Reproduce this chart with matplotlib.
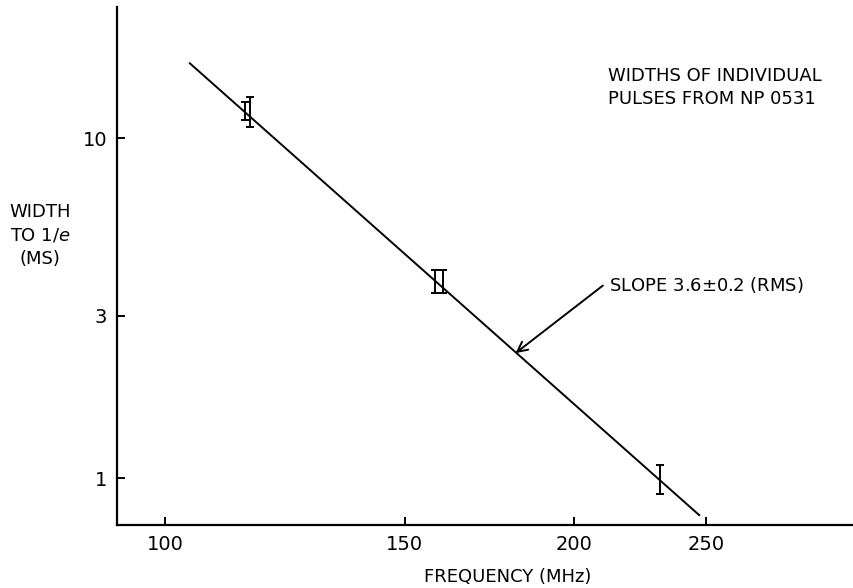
import matplotlib
matplotlib.use("Agg")
import matplotlib.pyplot as plt
from matplotlib.ticker import FixedLocator, FixedFormatter, NullLocator

# measured pulse widths (MS) vs frequency (MHz)
freq = [114.5, 115.5, 158, 160, 231]
width = [12.0, 12.0, 3.8, 3.8, 0.99]
err_lo = [0.7, 1.2, 0.3, 0.3, 0.09]
err_hi = [0.8, 1.2, 0.3, 0.3, 0.10]

# fitted power law line (slope 3.6)
fit_freq = [104.3, 247]
fit_width = [16.6, 0.778]

xticks = [100, 150, 200, 250]
yticks = [1, 3, 10]

plt.rcParams['font.family'] = ['DejaVu Sans']

fig = plt.figure(figsize=(8.54, 5.88), dpi=100)
ax = fig.add_axes([0.137, 0.107, 0.863, 0.881])

ax.set_xscale('log')
ax.set_yscale('log')
ax.set_xlim(92.2, 321)
ax.set_ylim(0.727, 24.3)

# fitted line
ax.plot(fit_freq, fit_width, color='black', lw=1.4)

# error bars
ax.errorbar(freq, width, yerr=[err_lo, err_hi], fmt='none', ecolor='black',
	elinewidth=1.4, capsize=3, capthick=1.4)

# axes style
for side in ['top', 'right']:
	ax.spines[side].set_visible(False)
for side in ['left', 'bottom']:
	ax.spines[side].set_linewidth(1.6)

ax.xaxis.set_major_locator(FixedLocator(xticks))
ax.xaxis.set_major_formatter(FixedFormatter([str(t) for t in xticks]))
ax.xaxis.set_minor_locator(NullLocator())
ax.yaxis.set_major_locator(FixedLocator(yticks))
ax.yaxis.set_major_formatter(FixedFormatter([str(t) for t in yticks]))
ax.yaxis.set_minor_locator(NullLocator())
ax.tick_params(direction='in', length=6, width=1.4, labelsize=14, pad=7)

# annotation with arrow
ax.annotate('SLOPE 3.6$\\pm$0.2 (RMS)', xy=(181, 2.33), xytext=(212, 3.7),
	textcoords='data', ha='left', va='center', fontsize=13,
	arrowprops=dict(arrowstyle='->', color='black', lw=1.4, relpos=(0, 0.7),
		shrinkA=3, shrinkB=0, mutation_scale=18))

# title inside the plot
ax.text(0.666, 0.885, 'WIDTHS OF INDIVIDUAL\nPULSES FROM NP 0531',
	transform=ax.transAxes, ha='left', va='top', fontsize=13, linespacing=1.4)

# axis labels
fig.text(0.047, 0.60, 'WIDTH\nTO 1/$\\mathit{e}$\n(MS)', ha='center', va='center',
	fontsize=13, linespacing=1.4)
fig.text(0.595, 0.019, 'FREQUENCY (MHz)', ha='center', va='center', fontsize=13)

fig.savefig('out.png', dpi=100)
